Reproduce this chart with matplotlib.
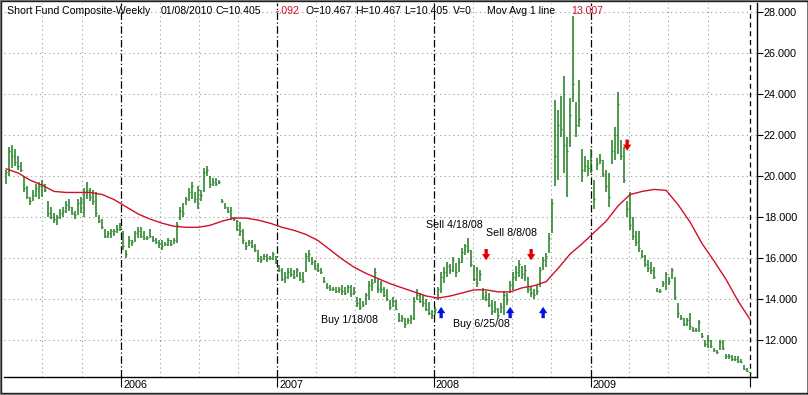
import matplotlib
matplotlib.use("Agg")
import matplotlib.pyplot as plt
import matplotlib.transforms as mtransforms
from matplotlib.patches import Rectangle
import pandas as pd

plt.rcParams['font.family'] = ['Liberation Sans', 'DejaVu Sans']

# weekly bars, first week 2005-04-08, last week 2010-01-08
first_week = '2005-04-08'
n_weeks = 249

bar_lo = [
    19.6, 20.0, 20.4, 20.5, 20.3, 20.2, 19.2, 18.9, 18.6, 18.8, 19.0, 18.9, 19.0,
    19.2, 18.0, 17.9, 17.7, 17.6, 17.9, 18.0, 18.2, 18.3, 18.1, 17.9, 18.1, 18.2,
    18.0, 18.9, 18.8, 18.6, 18.0, 17.7, 17.4, 17.0, 17.0, 17.0, 17.1, 17.2, 17.3,
    16.4, 16.0, 16.5, 16.6, 16.8, 17.0, 17.0, 16.9, 16.9, 17.0, 16.8, 16.7, 16.5,
    16.4, 16.6, 16.6, 16.6, 16.7, 16.75, 17.85, 18.0, 18.6, 18.8, 18.9, 18.7, 18.4,
    18.8, 19.2, 20.0, 19.4, 19.5, 19.5, 19.6, 18.7, 18.4, 18.2, 17.85, 17.8, 17.3,
    17.1, 16.7, 16.4, 16.6, 16.5, 16.3, 15.8, 15.75, 15.9, 15.8, 15.9, 15.9, 15.7,
    15.3, 14.9, 14.8, 15.0, 15.1, 15.0, 15.1, 14.9, 14.8, 15.3, 15.8, 15.65, 15.4,
    15.3, 15.2, 14.8, 14.5, 14.4, 14.4, 14.3, 14.3, 14.2, 14.2, 14.3, 14.1, 14.2,
    13.6, 13.45, 13.6, 13.7, 13.95, 14.4, 14.8, 14.3, 14.3, 14.1, 13.9, 13.45, 13.6,
    13.45, 12.9, 12.9, 12.6, 12.8, 12.8, 13.0, 13.95, 13.8, 13.6, 13.4, 13.2, 13.05,
    13.2, 13.95, 14.3, 14.8, 15.1, 15.2, 15.3, 15.1, 15.3, 15.75, 16.15, 16.25, 15.55,
    14.9, 14.6, 14.9, 13.95, 13.9, 13.6, 13.2, 13.3, 13.05, 13.3, 13.2, 13.7, 14.3,
    14.45, 14.9, 15.1, 15.0, 14.9, 14.3, 14.1, 14.0, 14.2, 14.6, 15.4, 15.55, 16.25,
    17.2, 19.5, 19.8, 21.9, 20.15, 19.0, 21.4, 23.6, 21.9, 22.4, 19.7, 20.2, 20.0,
    20.15, 18.4, 20.3, 20.6, 19.95, 19.2, 18.5, 20.6, 20.8, 21.1, 20.8, 19.65, 18.0,
    17.35, 16.9, 16.6, 16.3, 16.0, 15.55, 15.3, 15.2, 15.0, 14.35, 14.3, 14.6, 14.45,
    14.7, 15.0, 13.95, 13.1, 13.0, 12.7, 12.7, 12.5, 12.4, 12.4, 12.4, 12.1, 11.65,
    11.6, 11.6, 11.4, 11.3, 11.5, 11.5, 11.1, 11.1, 11.0, 11.0, 10.9, 10.9, 10.55,
    10.45, 10.405,
]
bar_hi = [
    20.3, 21.4, 21.5, 21.3, 21.0, 20.7, 20.0, 19.5, 19.0, 19.3, 19.6, 19.7, 19.8,
    19.6, 18.8, 18.5, 18.2, 18.1, 18.4, 18.5, 18.8, 18.9, 18.5, 18.3, 18.9, 19.0,
    19.4, 19.7, 19.4, 19.3, 19.2, 18.1, 17.9, 17.4, 17.3, 17.4, 17.4, 17.6, 17.7,
    17.3, 16.4, 17.1, 16.9, 17.3, 17.5, 17.5, 17.3, 17.1, 17.4, 17.1, 17.0, 16.9,
    16.9, 16.8, 17.0, 16.9, 17.0, 17.75, 18.5, 18.7, 19.0, 19.4, 19.7, 19.2, 19.5,
    19.3, 20.4, 20.5, 20.0, 19.9, 19.9, 19.8, 18.9, 18.7, 18.5, 18.5, 18.0, 17.85,
    17.75, 17.4, 16.8, 16.9, 16.9, 16.7, 16.4, 16.1, 16.2, 16.2, 16.1, 16.3, 16.1,
    15.65, 15.5, 15.3, 15.5, 15.5, 15.4, 15.5, 15.3, 15.3, 16.25, 16.4, 16.05, 15.9,
    15.75, 15.5, 15.1, 14.8, 14.7, 14.6, 14.6, 14.6, 14.7, 14.6, 14.7, 14.7, 14.6,
    14.1, 14.05, 13.9, 14.3, 14.9, 15.0, 15.5, 15.0, 14.9, 14.6, 14.5, 13.95, 14.1,
    13.95, 13.3, 13.2, 13.1, 13.1, 13.2, 14.1, 14.5, 14.3, 14.2, 14.0, 13.85, 13.45,
    13.6, 14.6, 15.3, 15.55, 15.8, 15.7, 16.05, 15.75, 16.0, 16.5, 16.7, 17.0, 16.4,
    15.65, 15.55, 15.4, 14.55, 14.4, 14.3, 13.95, 13.9, 13.55, 13.8, 14.4, 14.3, 14.9,
    15.3, 15.6, 15.9, 15.6, 15.65, 15.1, 14.6, 14.5, 14.7, 15.55, 16.05, 16.25, 17.2,
    18.9, 23.7, 23.2, 23.9, 24.9, 21.9, 23.8, 27.8, 23.6, 24.7, 21.3, 21.0, 20.8,
    21.3, 19.8, 20.9, 21.1, 20.8, 20.3, 20.15, 21.75, 22.4, 24.1, 21.75, 21.4, 18.8,
    19.2, 18.0, 17.3, 17.3, 16.4, 16.15, 15.9, 15.8, 15.55, 14.55, 14.5, 14.9, 15.3,
    15.1, 15.5, 15.1, 13.8, 13.2, 13.1, 13.1, 13.3, 12.65, 12.6, 13.0, 12.35, 12.0,
    12.25, 12.0, 11.6, 11.5, 12.0, 12.0, 11.3, 11.3, 11.25, 11.2, 11.2, 11.1, 10.8,
    10.65, 10.467,
]
bar_close = [
    20.2, 21.2, 21.0, 20.7, 20.5, 20.3, 19.4, 19.0, 18.8, 19.1, 19.4, 19.5, 19.6,
    19.3, 18.2, 18.0, 17.9, 18.0, 18.2, 18.3, 18.6, 18.5, 18.2, 18.1, 18.7, 18.8,
    19.2, 19.3, 19.0, 18.8, 18.2, 17.8, 17.5, 17.1, 17.2, 17.3, 17.3, 17.4, 17.5,
    16.6, 16.2, 16.9, 16.8, 17.2, 17.3, 17.1, 17.0, 17.0, 17.1, 16.9, 16.8, 16.7,
    16.6, 16.7, 16.9, 16.7, 16.9, 17.6, 18.3, 18.2, 18.9, 19.2, 19.5, 18.9, 19.3,
    19.1, 20.2, 20.3, 19.6, 19.7, 19.6, 19.7, 18.8, 18.5, 18.3, 18.0, 17.9, 17.4,
    17.3, 16.9, 16.6, 16.8, 16.6, 16.4, 16.0, 15.9, 16.1, 16.0, 16.0, 16.2, 15.8,
    15.4, 15.0, 15.1, 15.3, 15.2, 15.1, 15.4, 15.0, 14.9, 16.1, 16.2, 15.8, 15.5,
    15.4, 15.3, 14.9, 14.6, 14.5, 14.5, 14.4, 14.5, 14.4, 14.3, 14.6, 14.3, 14.4,
    13.8, 13.6, 13.7, 14.2, 14.7, 14.8, 15.3, 14.5, 14.5, 14.2, 14.0, 13.6, 13.9,
    13.5, 13.0, 13.1, 12.8, 13.0, 13.1, 13.9, 14.2, 13.9, 13.8, 13.5, 13.3, 13.2,
    13.5, 14.5, 15.1, 15.3, 15.6, 15.4, 15.9, 15.3, 15.8, 16.3, 16.6, 16.4, 15.7,
    15.0, 14.8, 15.2, 14.1, 14.0, 13.7, 13.4, 13.5, 13.2, 13.6, 14.2, 14.0, 14.7,
    15.1, 15.3, 15.7, 15.2, 15.4, 14.5, 14.3, 14.2, 14.4, 15.4, 15.9, 16.1, 17.0,
    18.7, 21.0, 22.5, 22.3, 21.5, 21.2, 23.0, 24.5, 22.5, 22.8, 20.3, 20.5, 20.4,
    20.3, 18.9, 20.6, 20.8, 20.1, 19.5, 19.0, 21.2, 22.0, 23.5, 21.0, 19.8, 18.4,
    17.6, 17.1, 16.8, 16.5, 16.1, 15.7, 15.5, 15.4, 15.1, 14.4, 14.4, 14.8, 15.2,
    14.9, 15.4, 14.1, 13.3, 13.1, 12.8, 13.0, 12.7, 12.5, 12.5, 12.9, 12.2, 11.8,
    12.0, 11.7, 11.5, 11.4, 11.9, 11.6, 11.2, 11.2, 11.1, 11.1, 11.0, 10.95, 10.6,
    10.5, 10.405,
]

# moving average, read every 4th week
ma_values = [
    20.35, 20.15, 19.8, 19.55, 19.25, 19.2, 19.2, 19.2, 19.1, 18.85,
    18.5, 18.15, 17.9, 17.7, 17.55, 17.5, 17.5, 17.6, 17.8, 17.95,
    17.95, 17.85, 17.7, 17.5, 17.35, 17.15, 16.85, 16.4, 15.95, 15.55,
    15.25, 15.0, 14.75, 14.55, 14.35, 14.15, 14.05, 14.15, 14.3, 14.45,
    14.45, 14.35, 14.35, 14.55, 14.65, 14.85, 15.5, 16.2, 16.7, 17.25,
    17.8, 18.55, 19.1, 19.25, 19.35, 19.3, 18.6, 17.75, 16.7, 15.85,
    14.95, 13.9, 13.0,
]

buy_dates = ['2008-01-18', '2008-06-27', '2008-09-12']
buy_levels = [13.07, 13.07, 13.07]
sell_dates = ['2008-05-02', '2008-08-15', '2009-03-27']
sell_levels = [16.44, 16.44, 21.78]

notes = ['Buy 1/18/08', 'Sell 4/18/08', 'Sell 8/8/08', 'Buy 6/25/08']
note_dates = ['2007-04-13', '2007-12-14', '2008-05-02', '2008-02-15']
note_levels = [12.98, 17.6, 17.2, 12.78]

yticks = [12, 14, 16, 18, 20, 22, 24, 26, 28]
years = ['2006', '2007', '2008', '2009']

green = '#1f7d1f'
red = '#d0102a'

dates = pd.date_range(first_week, periods=n_weeks, freq='7D')
ma_dates = dates[::4]

fig = plt.figure(figsize=(8.08, 3.95), dpi=100)
ax = fig.add_axes([4 / 808, 18 / 395, 753 / 808, 374 / 395])

# grid: quarters dotted, years dash-dot
for y in range(2005, 2010):
    for m in (4, 7, 10):
        d = pd.Timestamp(y, m, 1)
        if dates[0] - pd.Timedelta(days=5) < d < dates[-1]:
            ax.axvline(d, color='#999999', lw=0.8, ls=(0, (1, 3)), zorder=0)
for yr in years:
    ax.axvline(pd.Timestamp(yr), color='black', lw=0.9, ls=(0, (6, 2, 1, 2)), zorder=0)
for v in yticks:
    ax.axhline(v, color='#999999', lw=0.8, ls=(0, (1, 3)), zorder=0)
ax.axvline(dates[-1], color='black', lw=0.9, ls=(0, (4, 3)), zorder=0)

# bars
ax.vlines(dates, bar_lo, bar_hi, color=green, lw=1.1, zorder=2)
ax.hlines(bar_close, dates, dates + pd.Timedelta(days=2.5), color=green, lw=1, zorder=2)

ax.plot(ma_dates, ma_values, color=red, lw=1, zorder=3)

# signal arrows
arrow = dict(arrowstyle='simple,head_width=0.6,head_length=0.45,tail_width=0.24',
             lw=0, shrinkA=0, shrinkB=0)
for d, lv in zip(buy_dates, buy_levels):
    ax.annotate('', xy=(pd.Timestamp(d), lv + 0.55), xytext=(pd.Timestamp(d), lv),
                arrowprops=dict(arrow, color='#0010e0'), zorder=4)
for d, lv in zip(sell_dates, sell_levels):
    ax.annotate('', xy=(pd.Timestamp(d), lv - 0.55), xytext=(pd.Timestamp(d), lv),
                arrowprops=dict(arrow, color='#e00000'), zorder=4)

for t, d, lv in zip(notes, note_dates, note_levels):
    ax.text(pd.Timestamp(d), lv, t, fontsize=7.7, ha='left', va='center', zorder=5)

ax.set_xlim(dates[0] - pd.Timedelta(days=5), dates[-1] + pd.Timedelta(days=16))
ax.set_ylim(10.2, 28.44)

ax.yaxis.tick_right()
ax.set_yticks(yticks)
ax.set_yticklabels(['%.3f' % v for v in yticks], fontsize=7.8)
ax.tick_params(axis='y', length=4, width=0.8, pad=1)

ax.set_xticks([pd.Timestamp(y) for y in years] + [dates[-1]])
ax.set_xticklabels(years + [''], fontsize=7.8)
ax.tick_params(axis='x', length=7.5, width=0.8, pad=-5)
for lbl in ax.get_xticklabels():
    lbl.set_horizontalalignment('left')
    lbl.set_transform(lbl.get_transform() + mtransforms.ScaledTranslation(2 / 100, 0, fig.dpi_scale_trans))

for s in ('top', 'left'):
    ax.spines[s].set_visible(False)
ax.spines['right'].set_linewidth(1)
ax.spines['bottom'].set_linewidth(1)

# header line
header = [
    ('Short Fund Composite-Weekly', 7, 'black'),
    ('01/08/2010', 161, 'black'),
    ('C=10.405', 216, 'black'),
    ('-.092', 276, red),
    ('O=10.467', 305, 'black'),
    ('H=10.467', 355, 'black'),
    ('L=10.405', 404, 'black'),
    ('V=0', 453, 'black'),
    ('Mov Avg 1 line', 487, 'black'),
    ('13.007', 571, red),
]
for t, px, c in header:
    fig.text(px / 808, 1 - 11 / 395, t, fontsize=7.6, color=c, ha='left', va='center')

# window frame
fig.patches.append(Rectangle((0, 0), 1, 1, transform=fig.transFigure, fill=False,
                             edgecolor='#808080', lw=2))
fig.patches.append(Rectangle((0.5 / 808, 2.5 / 395), 1 - 1 / 808, 1 - 3 / 395, transform=fig.transFigure,
                             fill=False, edgecolor='#202020', lw=1))

fig.savefig('out.png', dpi=100)
